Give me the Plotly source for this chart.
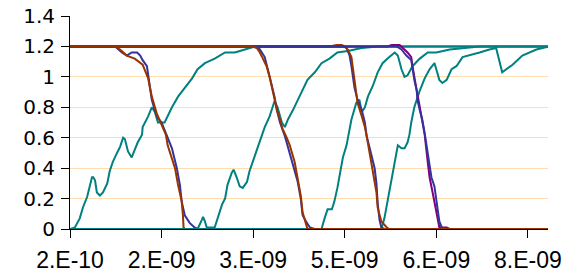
import plotly.graph_objects as go

# x in units of 1e-9 s
tick_vals = [0.2, 1.7, 3.2, 4.7, 6.2, 7.7]
tick_text = ["2.E-10", "2.E-09", "3.E-09", "5.E-09", "6.E-09", "8.E-09"]
y_ticks = [0, 0.2, 0.4, 0.6, 0.8, 1.0, 1.2, 1.4]
y_text = ["0", "0.2", "0.4", "0.6", "0.8", "1", "1.2", "1.4"]

teal1_x = [0.20,0.28,0.36,0.41,0.48,0.53,0.56,0.58,0.61,0.64,0.69,0.74,0.81,0.85,0.90,0.97,1.02,1.07,1.10,1.15,1.21,1.26,1.31,1.38,1.39,1.48,1.54,1.59,1.64,1.75,1.87,1.97,2.08,2.20,2.29,2.41,2.57,2.74,2.90,3.06,3.23,8.05]
teal1_y = [0,0.01,0.07,0.14,0.21,0.29,0.34,0.34,0.32,0.24,0.22,0.24,0.30,0.38,0.44,0.50,0.54,0.60,0.59,0.51,0.47,0.52,0.57,0.62,0.67,0.74,0.80,0.77,0.70,0.70,0.80,0.87,0.93,0.99,1.05,1.09,1.12,1.16,1.16,1.18,1.20,1.20]

teal2_x = [0.20,2.29,2.36,2.38,2.41,2.44,2.57,2.62,2.69,2.74,2.78,2.85,2.88,2.93,2.98,3.03,3.10,3.14,3.19,3.26,3.31,3.39,3.47,3.55,3.60,3.67,3.72,3.77,3.85,3.93,4.01,4.09,4.21,4.32,4.45,4.58,4.75,4.98,5.24,8.05]
teal2_y = [0,0,0.06,0.08,0.05,0.01,0.01,0.07,0.16,0.20,0.29,0.37,0.39,0.34,0.28,0.27,0.31,0.38,0.44,0.51,0.57,0.67,0.74,0.84,0.80,0.70,0.67,0.72,0.78,0.85,0.91,0.98,1.03,1.09,1.12,1.16,1.17,1.19,1.20,1.20]

teal3_x = [0.20,4.32,4.37,4.42,4.49,4.53,4.58,4.63,4.67,4.73,4.81,4.89,4.94,4.98,5.03,5.08,5.16,5.24,5.32,5.43,5.52,5.57,5.63,5.68,5.73,5.81,5.93,6.06,6.20,6.42,6.69,6.91,8.05]
teal3_y = [0,0,0.07,0.13,0.13,0.18,0.27,0.38,0.47,0.55,0.72,0.83,0.85,0.77,0.80,0.87,0.94,1.03,1.09,1.13,1.16,1.14,1.05,1.00,1.01,1.07,1.12,1.16,1.16,1.18,1.19,1.20,1.20]

teal4_x = [0.20,5.30,5.35,5.40,5.47,5.52,5.55,5.57,5.63,5.68,5.73,5.76,5.79,5.84,5.93,6.01,6.09,6.17,6.20,6.25,6.30,6.37,6.45,6.53,6.63,6.74,6.91,7.07,7.18,7.28,7.45,7.61,7.84,8.05]
teal4_y = [0,0,0.07,0.18,0.34,0.43,0.51,0.55,0.53,0.53,0.57,0.62,0.70,0.80,0.91,0.99,1.05,1.09,1.05,0.98,0.96,0.98,1.05,1.07,1.13,1.14,1.16,1.18,1.19,1.03,1.08,1.14,1.18,1.20]

brown1_x = [0.20,0.94,1.02,1.13,1.26,1.39,1.48,1.54,1.62,1.70,1.77,1.80,1.92,1.97,2.03,2.05,2.06,2.08,8.05]
brown1_y = [1.2,1.2,1.18,1.14,1.12,1.08,0.99,0.87,0.76,0.68,0.62,0.55,0.40,0.29,0.18,0.09,0.01,0,0]

blue1_x = [0.20,0.94,1.05,1.13,1.21,1.30,1.35,1.39,1.46,1.48,1.51,1.54,1.59,1.64,1.70,1.75,1.80,1.87,1.95,2.00,2.03,2.08,2.16,2.24,2.29,8.05]
blue1_y = [1.2,1.2,1.16,1.14,1.16,1.16,1.14,1.11,1.07,1.00,0.93,0.85,0.78,0.73,0.70,0.65,0.60,0.53,0.40,0.29,0.18,0.09,0.04,0.01,0,0]

brown2_x = [0.20,3.18,3.26,3.31,3.36,3.42,3.47,3.52,3.55,3.59,3.64,3.68,3.75,3.80,3.88,3.93,3.98,4.01,4.06,4.08,4.09,8.05]
brown2_y = [1.2,1.2,1.19,1.16,1.12,1.07,1.00,0.91,0.85,0.78,0.72,0.66,0.60,0.55,0.44,0.34,0.22,0.11,0.03,0.01,0,0]

blue2_x = [0.20,3.26,3.31,3.39,3.44,3.50,3.55,3.59,3.64,3.72,3.77,3.85,3.93,3.98,4.01,4.08,4.13,4.21,8.05]
blue2_y = [1.2,1.2,1.18,1.13,1.05,0.96,0.87,0.78,0.70,0.61,0.54,0.44,0.31,0.20,0.09,0.04,0.01,0,0]

brown3_x = [0.20,4.45,4.57,4.65,4.70,4.75,4.81,4.83,4.86,4.89,4.91,4.98,5.03,5.06,5.11,5.16,5.22,5.24,5.27,5.30,5.39,5.43,8.05]
brown3_y = [1.2,1.2,1.21,1.21,1.2,1.18,1.13,1.07,1.00,0.91,0.83,0.74,0.67,0.61,0.49,0.38,0.24,0.14,0.09,0.05,0.01,0,0]

blue3_x = [0.20,4.67,4.73,4.78,4.81,4.83,4.86,4.91,4.98,5.03,5.06,5.11,5.16,5.19,5.22,5.24,5.27,5.30,5.35,8.05]
blue3_y = [1.2,1.2,1.19,1.14,1.07,1.00,0.93,0.85,0.78,0.70,0.61,0.53,0.45,0.40,0.30,0.17,0.06,0.01,0,0]

blue4_x = [0.20,5.43,5.55,5.63,5.71,5.79,5.81,5.84,5.88,5.89,5.93,5.97,6.01,6.06,6.09,6.12,6.17,6.20,6.22,6.25,6.29,6.34,8.05]
blue4_y = [1.2,1.2,1.2,1.18,1.14,1.11,1.05,0.98,0.91,0.85,0.78,0.72,0.63,0.49,0.40,0.34,0.28,0.20,0.14,0.05,0.01,0,0]

purple4_x = [0.20,5.40,5.47,5.60,5.73,5.79,5.81,5.84,5.88,5.93,5.97,6.01,6.06,6.09,6.14,6.20,6.22,6.25,6.37,6.42,8.05]
purple4_y = [1.2,1.2,1.21,1.21,1.16,1.13,1.07,0.99,0.91,0.80,0.72,0.62,0.44,0.34,0.24,0.11,0.07,0.01,0.01,0,0]

TEAL = "#008080"
BLUE = "#333399"
BROWN = "#993300"
PURPLE = "#800080"

series = [
    (teal1_x, teal1_y, TEAL),
    (teal2_x, teal2_y, TEAL),
    (blue1_x, blue1_y, BLUE),
    (brown1_x, brown1_y, BROWN),
    (teal3_x, teal3_y, TEAL),
    (teal4_x, teal4_y, TEAL),
    (blue2_x, blue2_y, BLUE),
    (blue3_x, blue3_y, BLUE),
    (brown3_x, brown3_y, BROWN),
    (purple4_x, purple4_y, PURPLE),
    (blue4_x, blue4_y, BLUE),
    (brown2_x, brown2_y, BROWN),
]

fig = go.Figure()
for xs, ys, c in series:
    fig.add_trace(go.Scatter(x=xs, y=ys, mode="lines",
                             line=dict(color=c, width=2), showlegend=False,
                             hoverinfo="skip"))

font = dict(family="Liberation Sans, Arial, sans-serif", size=22, color="black")
fig.update_layout(
    width=576, height=274,
    margin=dict(l=70, r=28, t=16, b=45, autoexpand=False),
    paper_bgcolor="white", plot_bgcolor="white",
    font=font, hovermode=False,
)
fig.update_xaxes(
    range=[0.2, 8.03], tickvals=tick_vals, ticktext=tick_text,
    showgrid=False, zeroline=False, showline=True, linecolor="black", linewidth=1,
    ticks="outside", ticklen=8, tickcolor="black", layer="below traces",
    tickfont=dict(size=23), ticklabelstandoff=2, ticklabeloverflow="allow",
    automargin=False,
)
fig.update_yaxes(
    range=[0, 1.4], tickvals=y_ticks, ticktext=y_text,
    showgrid=True, gridcolor="#FFDDB0", gridwidth=1, zeroline=False,
    showline=True, linecolor="black", linewidth=1,
    ticks="outside", ticklen=8, tickcolor="black", layer="below traces",
    ticklabelstandoff=2, ticklabeloverflow="allow", automargin=False,
    tickfont=dict(family="DejaVu Sans, sans-serif", size=20),
)
fig.write_html("out.html", config={"displayModeBar": False},
               post_script="document.body.style.margin='0';")
